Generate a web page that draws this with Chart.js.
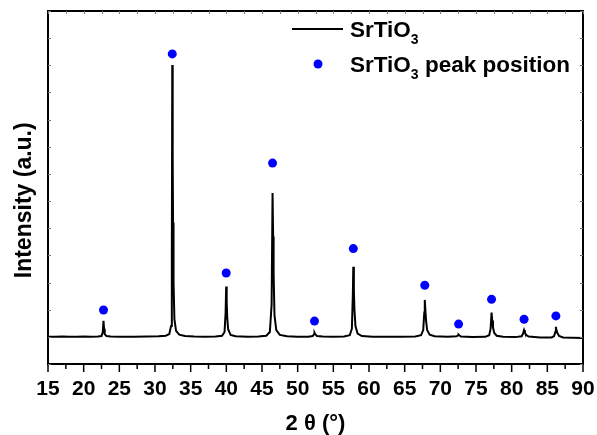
<!DOCTYPE html>
<html>
<head>
<meta charset="utf-8">
<script src="https://cdn.jsdelivr.net/npm/chart.js@4"></script>
<style>
  html, body { margin: 0; padding: 0; background: #fff; }
  #wrap { width: 597px; height: 435px; }
</style>
</head>
<body>
<div id="wrap"><canvas id="xrd"></canvas></div>
<script>
// XRD pattern of SrTiO3
const twoTheta = [
  15, 16, 17, 18, 19, 20, 21, 22, 22.5, 22.68, 22.78, 22.86, 22.95, 23.2, 23.8,
  25, 27, 29, 30.5, 31.5, 32.0, 32.25, 32.36, 32.42, 32.48, 32.53, 32.6, 32.72, 32.95, 33.4, 34.2,
  35.5, 37, 38.5, 39.4, 39.75, 39.9, 39.98, 40.05, 40.12, 40.25, 40.6, 41.3,
  43, 44.5, 45.6, 46.1, 46.35, 46.48, 46.56, 46.63, 46.75, 47.0, 47.5, 48.5,
  50, 51.5, 52.1, 52.3, 52.36, 52.45, 52.7, 53.5,
  55, 56.5, 57.3, 57.6, 57.73, 57.8, 57.88, 57.96, 58.1, 58.4, 59,
  60.5, 62.5, 64.5, 66.5, 67.3, 67.6, 67.75, 67.82, 67.9, 68.0, 68.15, 68.5, 69.2,
  71, 72.3, 72.5, 72.56, 72.68, 72.9, 74.5,
  76.3, 76.85, 77.05, 77.18, 77.27, 77.38, 77.55, 77.9, 78.8,
  80.5, 81.4, 81.6, 81.74, 81.85, 82.0, 82.4,
  84, 85.6, 85.95, 86.12, 86.2, 86.3, 86.45, 86.65, 87.2, 88.5, 90
];
const intensity = [
  100, 100, 101, 100, 100, 101, 100, 101, 103, 118, 159, 130, 110, 103, 101,
  100, 100, 101, 102, 104, 110, 140, 400, 1101, 760, 520, 300, 165, 122, 108, 103,
  101, 100, 101, 104, 118, 190, 285, 230, 175, 128, 107, 102,
  100, 101, 104, 118, 220, 630, 470, 330, 180, 125, 107, 102,
  100, 100, 103, 110, 115, 110, 103, 101,
  100, 101, 106, 130, 250, 358, 270, 200, 140, 112, 103,
  100, 100, 100, 101, 106, 125, 190, 236, 200, 160, 125, 108, 102,
  100, 102, 106, 108, 105, 101, 99,
  100, 106, 130, 189, 160, 135, 115, 104, 100,
  99, 102, 112, 125, 117, 107, 101,
  98, 98, 103, 118, 137, 122, 112, 103, 98, 97, 96
];

// reference peak positions (markers)
const peakTheta = [22.78, 32.42, 39.98, 46.48, 52.36, 57.8, 67.82, 72.56, 77.18, 81.74, 86.2];
const peakMark = [199, 1142, 335, 740, 158, 425, 290, 147, 238, 165, 177];

const FONT = "'Liberation Sans', Arial, sans-serif";

const lineData = twoTheta.map((t, i) => ({ x: t, y: intensity[i] }));
const peakData = peakTheta.map((t, i) => ({ x: t, y: peakMark[i] }));

// box frame, minor ticks, legend with subscripts
const frame = {
  id: 'frame',
  afterDraw(chart) {
    const { ctx, chartArea: a, scales: { x, y } } = chart;
    ctx.save();
    ctx.strokeStyle = '#000';
    ctx.lineWidth = 2;
    ctx.strokeRect(a.left, a.top, a.right - a.left, a.bottom - a.top);

    ctx.lineWidth = 1.5;
    ctx.beginPath();
    for (let v = 15; v <= 90; v += 2.5) {
      const px = x.getPixelForValue(v);
      const len = v % 5 === 0 ? 8 : 5;
      ctx.moveTo(px, a.bottom);
      ctx.lineTo(px, a.bottom + len);
    }
    ctx.stroke();

    ctx.strokeStyle = '#777';
    ctx.lineWidth = 1;
    ctx.beginPath();
    for (let v = 15; v <= 90; v += 2.5) {
      const px = Math.round(x.getPixelForValue(v)) + 0.5;
      ctx.moveTo(px, a.top);
      ctx.lineTo(px, a.top + 3);
    }
    for (let v = 0; v <= 1300; v += 100) {
      const py = Math.round(y.getPixelForValue(v)) + 0.5;
      ctx.moveTo(a.left, py);
      ctx.lineTo(a.left + 3, py);
      ctx.moveTo(a.right, py);
      ctx.lineTo(a.right - 3, py);
    }
    ctx.stroke();

    // legend
    ctx.fillStyle = '#000';
    ctx.strokeStyle = '#000';
    ctx.lineWidth = 1.8;
    ctx.beginPath();
    ctx.moveTo(292, 29);
    ctx.lineTo(343, 29);
    ctx.stroke();

    ctx.fillStyle = '#0000ff';
    ctx.beginPath();
    ctx.arc(318, 64, 4.5, 0, Math.PI * 2);
    ctx.fill();

    ctx.fillStyle = '#000';
    ctx.textBaseline = 'alphabetic';
    ctx.textAlign = 'left';
    const big = 'bold 22.5px ' + FONT;
    const small = 'bold 14px ' + FONT;
    const rows = [[37, ''], [72, ' peak position']];
    rows.forEach(([base, rest]) => {
      ctx.font = big;
      ctx.fillText('SrTiO', 350, base);
      let w = ctx.measureText('SrTiO').width;
      ctx.font = small;
      ctx.fillText('3', 350 + w, base + 7);
      w += ctx.measureText('3').width;
      if (rest) {
        ctx.font = big;
        ctx.fillText(rest, 350 + w, base);
      }
    });
    ctx.restore();
  }
};

new Chart(document.getElementById('xrd'), {
  type: 'line',
  data: {
    datasets: [{
      label: 'SrTiO3',
      data: lineData,
      borderColor: '#000',
      borderWidth: 2,
      pointRadius: 0,
      tension: 0,
      fill: false
    }, {
      label: 'SrTiO3 peak position',
      data: peakData,
      showLine: false,
      pointRadius: 4.5,
      pointBackgroundColor: '#0000ff',
      pointBorderWidth: 0,
      borderColor: '#0000ff'
    }]
  },
  options: {
    responsive: true,
    maintainAspectRatio: false,
    animation: false,
    layout: { padding: { top: 11, right: 14, left: 0, bottom: 0 } },
    plugins: { legend: { display: false }, tooltip: { enabled: false } },
    scales: {
      x: {
        type: 'linear',
        min: 15,
        max: 90,
        afterFit: (s) => { s.height = 71; s.paddingRight = 0; s.paddingLeft = 0; },
        grid: { display: false, drawTicks: false },
        border: { display: false },
        ticks: {
          stepSize: 5,
          padding: 13,
          color: '#000',
          font: { family: FONT, size: 21, weight: 'bold' }
        },
        title: {
          display: true,
          text: '2 θ (°)',
          color: '#000',
          padding: { top: 0, bottom: -2 },
          font: { family: FONT, size: 22, weight: 'bold' }
        }
      },
      y: {
        min: 0,
        max: 1300,
        afterFit: (s) => { s.width = 48; },
        grid: { display: false, drawTicks: false },
        border: { display: false },
        ticks: { display: false, stepSize: 100 },
        title: {
          display: true,
          text: 'Intensity (a.u.)    ',
          color: '#000',
          padding: { top: 11, bottom: 0 },
          font: { family: FONT, size: 23, weight: 'bold' }
        }
      }
    }
  },
  plugins: [frame]
});
</script>
</body>
</html>
